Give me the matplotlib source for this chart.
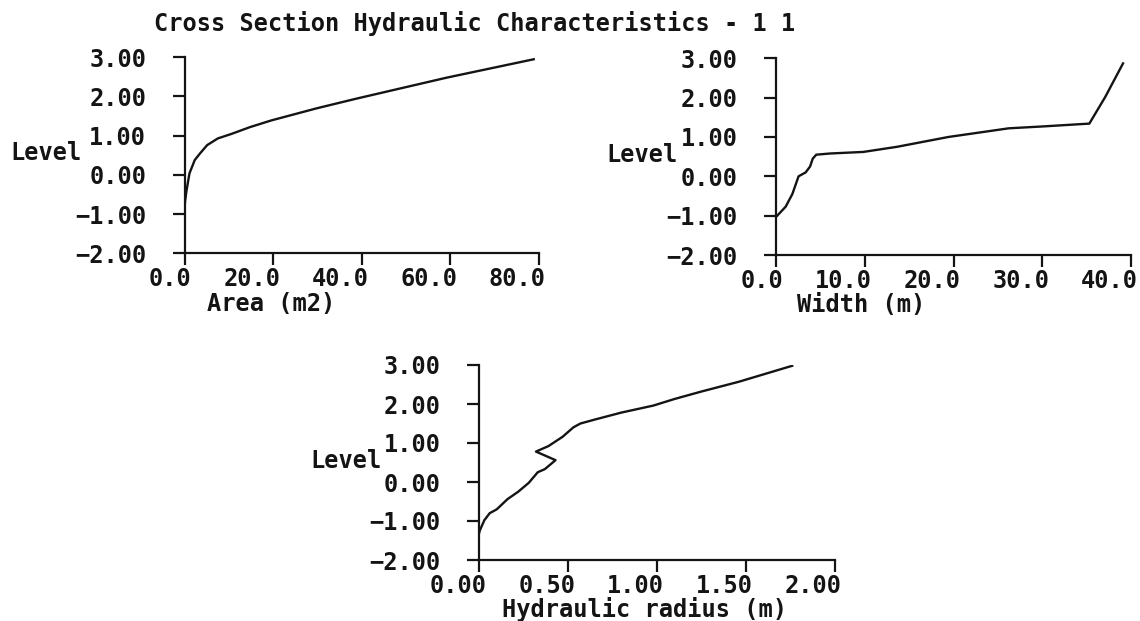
import matplotlib
matplotlib.use("Agg")
import matplotlib.pyplot as plt
import matplotlib.transforms as mtransforms

# Area (m2) vs level
area = [0.0, 0.1, 0.45, 1.1, 2.3, 3.5, 5.1, 7.5, 10.7, 14.8, 19.6, 29.9, 39.0, 59.2, 78.9]
area_level = [-0.85, -0.68, -0.39, 0.04, 0.38, 0.55, 0.76, 0.93, 1.05, 1.22, 1.39, 1.70, 1.95, 2.48, 2.95]

# Width (m) vs level
width = [0.1, 1.05, 1.8, 2.5, 3.3, 3.8, 4.1, 4.5, 6.05, 9.8, 13.6, 19.4, 26.2, 30.2, 35.3, 37.1, 39.1]
width_level = [-1.0, -0.77, -0.45, 0.0, 0.1, 0.25, 0.45, 0.55, 0.58, 0.62, 0.75, 1.0, 1.22, 1.27, 1.34, 2.02, 2.87]

# Hydraulic radius (m) vs level
radius = [0.0, 0.004, 0.03, 0.06, 0.10, 0.16, 0.22, 0.28, 0.33, 0.37, 0.43, 0.32, 0.39, 0.47,
          0.53, 0.57, 0.65, 0.80, 0.98, 1.10, 1.25, 1.46, 1.76]
radius_level = [-1.32, -1.25, -0.98, -0.80, -0.70, -0.44, -0.25, -0.02, 0.25, 0.33, 0.56, 0.78, 0.92, 1.16,
                1.40, 1.50, 1.60, 1.78, 1.96, 2.13, 2.32, 2.57, 2.98]

level_ticks = [-2, -1, 0, 1, 2, 3]
level_labels = ["\u22122.00", "\u22121.00", "0.00", "1.00", "2.00", "3.00"]
area_ticks = [0, 20, 40, 60, 80]
area_labels = ["0.0", "20.0", "40.0", "60.0", "80.0"]
width_ticks = [0, 10, 20, 30, 40]
width_labels = ["0.0", "10.0", "20.0", "30.0", "40.0"]
radius_ticks = [0, 0.5, 1.0, 1.5, 2.0]
radius_labels = ["0.00", "0.50", "1.00", "1.50", "2.00"]

title = "Cross Section Hydraulic Characteristics - 1 1"

W, H = 1140, 621
ink = "#141414"
fs = 17
tick_len = 8.7   # points
plt.rcParams["font.family"] = "DejaVu Sans Mono"
plt.rcParams["font.weight"] = "bold"

fig = plt.figure(figsize=(W / 100, H / 100), dpi=100)


def px_axes(left, right, top, bottom):
    return fig.add_axes([left / W, 1 - bottom / H, (right - left) / W, (bottom - top) / H])


def style(ax, x, y, xlim, xticks, xlabels, xlabel, level_off, xlabel_off):
    ax.plot(x, y, color=ink, lw=1.7, solid_joinstyle="round")
    ax.set_xlim(*xlim)
    ax.set_ylim(-2, 3)
    for s in ["top", "right"]:
        ax.spines[s].set_visible(False)
    for s in ["left", "bottom"]:
        ax.spines[s].set_linewidth(1.6)
        ax.spines[s].set_color(ink)
        ax.spines[s].set_capstyle("projecting")
    ax.tick_params(axis="both", direction="out", length=tick_len, width=1.6, color=ink,
                   labelsize=fs, labelcolor=ink)
    ax.tick_params(axis="y", pad=19)
    ax.set_yticks(level_ticks)
    ax.set_yticklabels(level_labels)
    # x labels: last digit sits on the tick
    xtrans = ax.get_xaxis_transform() + mtransforms.ScaledTranslation(
        7.2 / 100, -(tick_len + 1.2) / 72, fig.dpi_scale_trans)
    ax.set_xticks(xticks)
    ax.set_xticklabels(xlabels, ha="right", va="top", transform=xtrans)
    ax.annotate("Level", xy=(0, 0.5), xycoords="axes fraction", xytext=level_off,
                textcoords="offset pixels", ha="left", va="center", fontsize=fs, color=ink)
    ax.annotate(xlabel, xy=(0, 0), xycoords="axes fraction", xytext=xlabel_off,
                textcoords="offset pixels", ha="left", va="center", fontsize=fs, color=ink)


ax1 = px_axes(184.6, 538.6, 57.3, 253.3)
style(ax1, area, area_level, (0, 80), area_ticks, area_labels, "Area (m2)", (-174, 2), (22, -51))

ax2 = px_axes(776.4, 1131.0, 58.3, 255.0)
style(ax2, width, width_level, (0, 40), width_ticks, width_labels, "Width (m)", (-170, 2), (21, -50))

ax3 = px_axes(479.0, 834.9, 365.0, 560.0)
style(ax3, radius, radius_level, (0, 2), radius_ticks, radius_labels, "Hydraulic radius (m)", (-169, 1), (23, -49))

fig.text(153.6 / W, 1 - 23.3 / H, title, ha="left", va="center", fontsize=fs, color=ink)

fig.savefig("out.png", dpi=100, facecolor="white")
